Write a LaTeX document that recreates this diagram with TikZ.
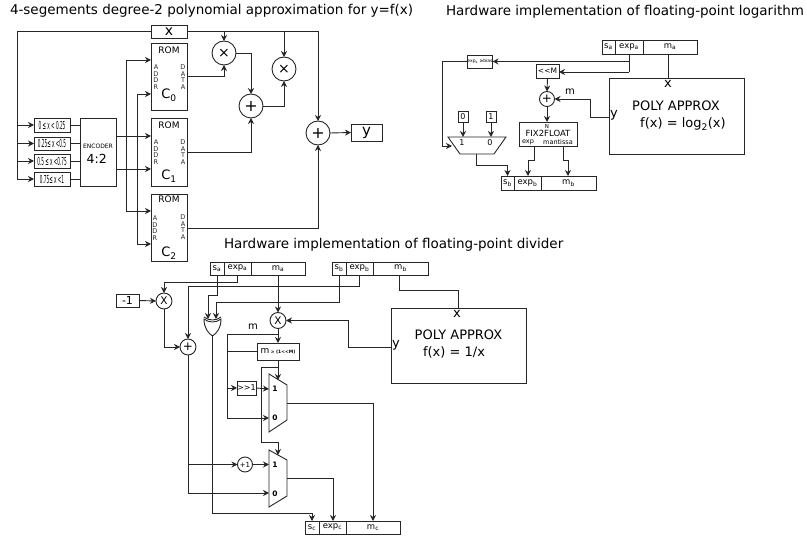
\documentclass[tikz,border=0pt]{standalone}
\usepackage{fontspec}
\usepackage{graphicx}
\setmainfont{DejaVu Sans}
\usetikzlibrary{arrows.meta,calc}
\newcommand\fs[1]{\fontsize{#1}{#1}\selectfont}
\newcommand\sbs[1]{\textsubscript{#1}}
\newcommand\squeezed[1]{\scalebox{0.38}[1]{\fs{11}#1}}
\newcommand\boxat[7][]{%
  \pgfmathsetmacro\bw{#5-#3}\pgfmathsetmacro\bh{#6-#4}%
  \pgfmathsetmacro\cx{(#3+#5)/2}\pgfmathsetmacro\cy{(#4+#6)/2}%
  \node[bx,minimum width=\bw pt,minimum height=\bh pt,#1] (#2) at (\cx,\cy) {#7};}
\tikzset{
  ln/.style={line width=0.9pt,draw=black!85},
  ar/.style={ln,-{Stealth[length=6pt,width=6pt]}},
  bx/.style={draw=black!85,line width=0.9pt,inner sep=0pt,outer sep=0pt,fill=white,align=center},
  opn/.style={draw=black!85,line width=0.9pt,circle,inner sep=0pt,outer sep=0pt,fill=white},
  big/.style={opn,minimum size=24pt},
  mid/.style={opn,minimum size=16pt},
  lab/.style={inner sep=0pt,outer sep=0pt,align=center},
  field/.style={font=\fs{8.5}},
  stack/.style={lab,font=\fs{6.5},text=black!85},
  ttl/.style={lab,anchor=west,font=\fs{13.5}}
}
\begin{document}
\begin{tikzpicture}[x=1pt,y=-1pt]
\useasboundingbox (0,0) rectangle (807,540);
% titles
\node[ttl] (t1) at (10,11) {4-segements degree-2 polynomial approximation for y=f(x)};
\node[ttl] (t2) at (446,12) {Hardware implementation of floating-point logarithm};
\node[ttl] (t3) at (224,245) {Hardware implementation of floating-point divider};
% --- polynomial approximation ---
\boxat{xbox}{151}{25}{187}{38}{\fs{14}x}
\boxat{rom0}{151}{43}{187}{110}{}
\boxat{rom1}{151}{118}{187}{186}{}
\boxat{rom2}{151}{194}{187}{261}{}
\boxat{r1}{34}{118}{70}{132}{\squeezed{0 ≤ x < 0.25}}
\boxat{r2}{34}{137}{70}{150}{\squeezed{0.25≤ x <0.5}}
\boxat{r3}{34}{154}{70}{168}{\squeezed{0.5 ≤ x <0.75}}
\boxat{r4}{34}{172}{70}{186}{\squeezed{0.75≤ x <1}}
\boxat{enc}{80}{118}{116}{186}{}
\node[lab,font=\fs{6}] (enct) at (98,146) {ENCODER};
\node[lab,font=\fs{12.5}] (encn) at (96.7,159) {4:2};
\foreach \n/\y/\cy in {0/50/95,1/125/176,2/199/253}{
  \node[lab,font=\fs{9}] (romt\n) at (169,\y) {ROM};
  \node[lab,font=\fs{13}] (romc\n) at (169,\cy) {C\sbs{\n}};
}
\node[stack] (ad0) at (156,77) {A\\D\\D\\R};
\node[stack] (da0) at (183,77) {D\\A\\T\\A};
\node[stack] (ad1) at (156,152) {A\\D\\D\\R};
\node[stack] (da1) at (183,152) {D\\A\\T\\A};
\node[stack] (ad2) at (155,228) {A\\D\\D\\R};
\node[stack] (da2) at (183,227) {D\\A\\T\\A};
\node[big,font=\fs{14}] (mul0) at (224,53) {×};
\node[big,font=\fs{14}] (mul1) at (284,69) {×};
\node[big,font=\fs{16}] (add0) at (251,106) {+};
\node[big,font=\fs{16}] (add1) at (318,133) {+};
\boxat{ybox}{351}{124}{382}{141}{\fs{15}y}
\coordinate (rail) at (17,179);
\coordinate (v1) at (126,0);
\coordinate (v2) at (137,0);
\coordinate (a0u) at (151,60);
\coordinate (a0l) at (151,94);
\coordinate (a1u) at (151,136);
\coordinate (a1l) at (151,169);
\coordinate (a2u) at (151,211);
\coordinate (a2l) at (151,244);
\coordinate (d0) at (187,76);
\coordinate (d1) at (187,152);
\coordinate (d2) at (187,228);
\draw[ln] (xbox.west) -| (rail);
\draw[ar] (rail |- r1.west) -- (r1.west);
\draw[ar] (rail |- r2.west) -- (r2.west);
\draw[ar] (rail |- r3.west) -- (r3.west);
\draw[ar] (rail) -- (rail -| r4.west);
\foreach \r in {r1,r2,r3,r4}{ \draw[ln] (\r.east) -- (\r.east -| enc.west); }
\draw[ar] (enc.east |- a1u) -- (a1u);
\draw[ar] (enc.east |- a1l) -- (a1l);
\draw[ar] (v1 |- a1u) -- (v1 |- a0u) -- (a0u);
\draw[ar] (v1 |- a1u) -- (v1 |- a2u) -- (a2u);
\draw[ar] (v2 |- a1l) -- (v2 |- a0l) -- (a0l);
\draw[ar] (v2 |- a1l) -- (v2 |- a2l) -- (a2l);
\draw[ar] (xbox.east) -| (add1.north);
\draw[ar] (mul0.north |- xbox.east) -- (mul0.north);
\draw[ar] (mul1.north |- xbox.east) -- (mul1.north);
\draw[ar] (d0) -| (mul0.south);
\draw[ar] (mul0.east) -| (add0.north);
\draw[ar] (d1) -| (add0.south);
\draw[ar] (add0.east) -| (mul1.south);
\draw[ar] (d2) -| (add1.south);
\draw[ar] (add1.east) -- (ybox.west);
% --- logarithm ---
\boxat[field]{lsa}{602}{40}{615}{54}{s\sbs{a}}
\boxat[field]{lea}{615}{40}{643}{54}{exp\sbs{a}}
\boxat[field]{lma}{643}{40}{697}{54}{m\sbs{a}}
\boxat[field]{lsb}{501}{176}{514}{190}{s\sbs{b}}
\boxat[field]{leb}{514}{176}{541}{190}{exp\sbs{b}}
\boxat[field]{lmb}{541}{176}{596}{190}{m\sbs{b}}
\boxat{cmp}{468}{55}{492}{68}{\fs{4.5}exp\sbs{a} ≥bias}
\boxat{shl}{536}{64}{559}{78}{\fs{7.5}<{}<M}
\node[opn,minimum size=15pt,font=\fs{12}] (ladd) at (547,99) {+};
\boxat{f2f}{519}{122}{577}{146}{}
\node[lab,font=\fs{5.5}] (f2fn) at (547,126) {N};
\node[lab,font=\fs{8.5}] (f2ft) at (548,133.5) {FIX2FLOAT};
\node[lab,font=\fs{6.5}] (f2fe) at (528,142) {exp};
\node[lab,font=\fs{6.5}] (f2fm) at (558,142) {mantissa};
\boxat{lpoly}{609}{78}{744}{154}{}
\node[lab,font=\fs{13}] (lpx) at (668,84) {x};
\node[lab,font=\fs{13}] (lpy) at (614,115) {y};
\node[lab,font=\fs{13}] (lpt) at (676,106) {POLY APPROX};
\node[lab,font=\fs{13}] (lpf) at (683,124) {f(x) = log\sbs{2}(x)};
\node[lab,font=\fs{10}] (lm) at (570,92) {m};
\boxat{zero}{458}{111}{468}{122}{\fs{8}0}
\boxat{one}{486}{111}{496}{122}{\fs{8}1}
\draw[ln] (448,137) coordinate (mtl) -- (506,137) coordinate (mtr) -- (494,154) coordinate (mbr) -- (460,154) coordinate (mbl) -- cycle;
\node[lab,font=\fs{8}] (mlab1) at (462,143) {1};
\node[lab,font=\fs{8}] (mlab0) at (490,143) {0};
\coordinate (msel) at (452,146);
\coordinate (mout) at (476,154);
\coordinate (lexp) at (629,54);
\coordinate (ljoin) at (629,72);
\coordinate (lp1) at (442,146);
\coordinate (ly) at (609,117);
\coordinate (lfe) at (534,146);
\coordinate (lfm) at (563,146);
\coordinate (ltoe) at (528,176);
\coordinate (ltom) at (568,176);
\draw[ln] (lexp) -- (ljoin);
\draw[ar] (ljoin) -- (ljoin -| shl.east);
\draw[ar] (lexp |- cmp.east) -- (cmp.east);
\draw[ln] (cmp.west) -| (lp1);
\draw[ar] (lp1) -- (msel);
\draw[ar] (shl.south) -- (ladd.north);
\draw[ar] (ladd.south) -- (f2f.north -| ladd.south);
\draw[ar] (ly) -- ++(-19,0) |- (ladd.east);
\draw[ln] (lma.south -| lpx) -- (lpoly.north -| lpx);
\draw[ar] (zero.south) -- (zero.south |- mtl);
\draw[ar] (one.south) -- (one.south |- mtl);
\draw[ar] (mout) |- ++(31.5,11) -- (lsb.north);
\draw[ar] (lfe) -- ++(0,14) -| (ltoe);
\draw[ar] (lfm) -- ++(0,14) -| (ltom);
% --- divider ---
\boxat[field]{dsa}{210}{262}{224}{275}{s\sbs{a}}
\boxat[field]{dea}{224}{262}{251}{275}{exp\sbs{a}}
\boxat[field]{dma}{251}{262}{305}{275}{m\sbs{a}}
\boxat[field]{dsb}{332}{262}{346}{275}{s\sbs{b}}
\boxat[field]{deb}{346}{262}{373}{275}{exp\sbs{b}}
\boxat[field]{dmb}{373}{262}{428}{275}{m\sbs{b}}
\boxat[field]{dsc}{305}{521}{319}{534}{s\sbs{c}}
\boxat[field]{dec}{319}{521}{346}{534}{exp\sbs{c}}
\boxat[field]{dmc}{346}{521}{400}{534}{m\sbs{c}}
\boxat{neg}{116}{294}{139}{307}{\fs{11}-1}
\node[mid,font=\fs{10.5}] (dmul0) at (164,301) {X};
\node[mid,font=\fs{12}] (dadd) at (188,347) {+};
\node[mid,font=\fs{10.5}] (dmul1) at (278,320.5) {X};
\boxat{mge}{257}{343}{299}{360}{\fs{9}m\fs{4.5} ≥ \textbf{(1<{}<M)}}
\boxat{sh1}{237}{381}{256}{395}{\fs{8}>{}>1}
\node[opn,minimum size=15pt,font=\fs{7}] (inc) at (245,464.5) {+1};
\boxat{dpoly}{391}{308}{526}{383}{}
\node[lab,font=\fs{13}] (dpx) at (457,314) {x};
\node[lab,font=\fs{13}] (dpy) at (396,345) {y};
\node[lab,font=\fs{13}] (dpt) at (458.5,335) {POLY APPROX};
\node[lab,font=\fs{13}] (dpf) at (454,352) {f(x) = 1/x};
\node[lab,font=\fs{10}] (dm) at (253,327) {m};
% xor gate
\draw[ln,fill=white] (204,319) coordinate (xl) .. controls (204,328) and (208,333) .. (212.5,336) coordinate (xout) .. controls (217,333) and (221,328) .. (221,319) coordinate (xr) .. controls (216,323) and (209,323) .. (204,319) -- cycle;
\draw[ln] (204,317) .. controls (209,321) and (216,321) .. (221,317);
\coordinate (xin0) at (208,319);
\coordinate (xin1) at (216,319);
% muxes
\draw[ln] (269,374) coordinate (m1a) -- (287,385) -- (287,420) -- (269,432) coordinate (m1d) -- cycle;
\draw[ln] (269,450) coordinate (m2a) -- (287,460) -- (287,496) -- (269,507) coordinate (m2d) -- cycle;
\node[lab,font=\fs{7.5}\bfseries] (m1one) at (275,389) {1};
\node[lab,font=\fs{7.5}\bfseries] (m1zero) at (275,418) {0};
\node[lab,font=\fs{7.5}\bfseries] (m2one) at (275,465) {1};
\node[lab,font=\fs{7.5}\bfseries] (m2zero) at (275,494) {0};
\coordinate (m1top) at (278,380);
\coordinate (m2top) at (278,455);
\coordinate (m1o) at (287,403);
\coordinate (m2o) at (287,478);
\coordinate (m1i1) at (269,389);
\coordinate (m1i0) at (269,418);
\coordinate (m2i1) at (269,464.5);
\coordinate (m2i0) at (269,493);
\coordinate (dy) at (391,347);
\coordinate (rm) at (227,334);
\coordinate (toc) at (312,521);
\coordinate (toe) at (333,521);
\coordinate (tom) at (373,521);
\coordinate (pin) at (458.6,308);
\draw[ar] (dea.south) -- ++(0,7) -| (dmul0.north);
\draw[ar] (neg.east) -- (dmul0.west);
\draw[ar] (dmul0.south) |- (dadd.west);
\draw[ar] (deb.south) -- ++(0,11) -| (dadd.north);
\draw[ar] (dadd.south) |- (m2i0);
\draw[ar] (dadd.south |- inc.west) -- (inc.west);
\draw[ar] (inc.east) -- (m2i1);
\draw[ar] (dsa.south) -- ++(0,20) -| (xin0);
\draw[ar] (dsb.south) -- ++(0,27) -| (xin1);
\draw[ar] (xout) |- (212.5,513) -| (toc);
\draw[ar] (dma.south) -- (dmul1.north);
\draw[ar] (dy) -- ++(-43,0) |- (dmul1.east);
\draw[ar] (dmul1.south) -- (mge.north -| dmul1.south);
\draw[ln] (rm -| dmul1.south) -- (rm);
\draw[ar] (rm) |- (m1i0);
\draw[ln] (mge.west) -- (mge.west -| rm);
\draw[ar] (rm |- sh1.west) -- (sh1.west);
\draw[ar] (sh1.east) -- (m1i1);
\draw[ar] (mge.south -| dmul1) -- (m1top);
\draw[ar] (278,367) -- (261,367) |- (278,442) -- (m2top);
\draw[ar] (m1o) -| (tom);
\draw[ar] (m2o) -| (toe);
\draw[ln] (dmb.south -| 399,0) |- (458.6,290) -- (pin);
\end{tikzpicture}
\end{document}
